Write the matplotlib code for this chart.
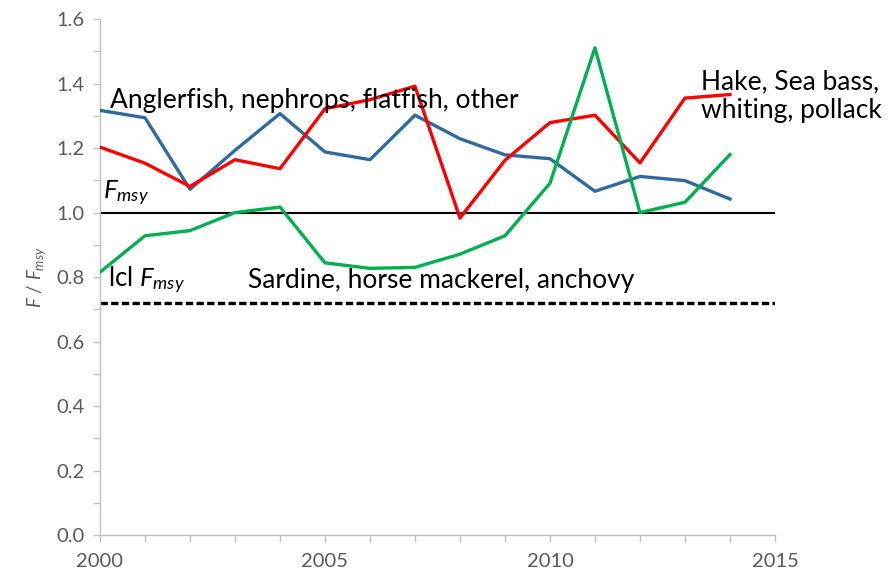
import matplotlib.pyplot as plt
import numpy as np

plt.rcParams['font.family'] = ['Lato', 'DejaVu Sans']
plt.rcParams['mathtext.fontset'] = 'custom'
plt.rcParams['mathtext.it'] = 'Lato:italic'
plt.rcParams['mathtext.rm'] = 'Lato'

years = list(range(2000, 2015))

# F / Fmsy by stock group
demersal = [1.317, 1.294, 1.072, 1.193, 1.307, 1.188, 1.164, 1.302,
            1.229, 1.179, 1.167, 1.066, 1.112, 1.099, 1.042]
hake = [1.203, 1.153, 1.081, 1.164, 1.136, 1.322, 1.350, 1.392,
        0.983, 1.162, 1.279, 1.302, 1.154, 1.355, 1.366]
pelagic = [0.815, 0.928, 0.944, 1.000, 1.017, 0.844, 0.827, 0.830,
           0.871, 0.928, 1.091, 1.511, 1.000, 1.032, 1.180]

fmsy = 1.0
lcl_fmsy = 0.72

fig = plt.figure(figsize=(8.88, 5.79), dpi=100)
ax = fig.add_axes([0.1126, 0.076, 0.7601, 0.891])

ax.plot(years, demersal, color='#2e6a9e', lw=2.4, zorder=3)
ax.plot(years, hake, color='#ff0000', lw=2.4, zorder=3)
ax.plot(years, pelagic, color='#00b050', lw=2.4, zorder=3)
ax.plot([2000, 2015], [fmsy, fmsy], color='black', lw=1.5, zorder=2)
ax.plot([2000, 2015], [lcl_fmsy, lcl_fmsy], color='black', lw=2.4,
        ls=(0, (2.2, 1.0)), zorder=2)

ax.set_xlim(2000, 2015)
ax.set_ylim(0, 1.6)
ax.set_xticks(np.arange(2000, 2016, 5))
ax.set_xticks(np.arange(2000, 2016, 1), minor=True)
ax.set_yticks(np.arange(0, 1.61, 0.2))
ax.set_yticks(np.arange(0, 1.61, 0.1), minor=True)
ax.set_yticklabels([f'{v:.1f}' for v in np.arange(0, 1.61, 0.2)])

for s in ['top', 'right']:
    ax.spines[s].set_visible(False)
for s in ['left', 'bottom']:
    ax.spines[s].set_color('#bfbfbf')
    ax.spines[s].set_linewidth(1.0)

ax.tick_params(which='both', direction='out', color='#bfbfbf', length=5,
               width=1.0, labelcolor='#595959', labelsize=14.5)
ax.tick_params(axis='x', pad=8)
ax.tick_params(axis='y', pad=6)

ax.set_ylabel('$F$ / $F_{msy}$', fontsize=13.5, color='#595959', labelpad=6)

ax.text(2000.22, 1.349, 'Anglerfish, nephrops, flatfish, other',
        fontsize=19, va='center', ha='left')
ax.text(2013.35, 1.36, 'Hake, Sea bass,\nwhiting, pollack',
        fontsize=19, va='center', ha='left', linespacing=1.2)
ax.text(2000.06, 1.06, '$F_{msy}$', fontsize=18.5, va='center', ha='left')
ax.text(2000.18, 0.79, 'lcl $F_{msy}$', fontsize=18.5, va='center', ha='left')
ax.text(2003.3, 0.79, 'Sardine, horse mackerel, anchovy',
        fontsize=19, va='center', ha='left')

fig.savefig('out.png', dpi=100)
